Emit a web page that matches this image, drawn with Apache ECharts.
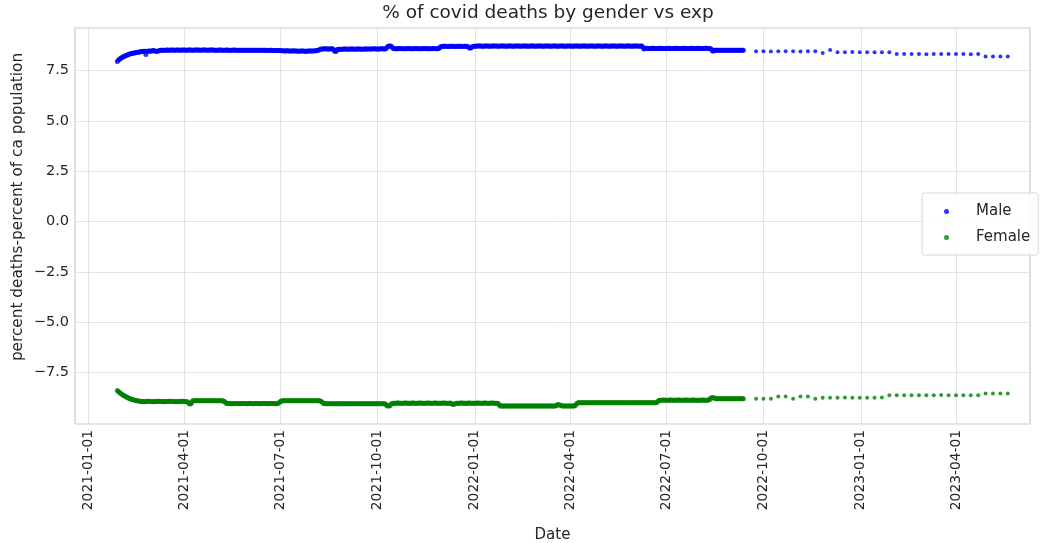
<!DOCTYPE html>
<html>
<head>
<meta charset="utf-8">
<script src="https://cdn.jsdelivr.net/npm/echarts@6/dist/echarts.min.js"></script>
<style>
  html, body { margin: 0; padding: 0; background: #ffffff; }
  #chart { width: 1045px; height: 543px; }
</style>
</head>
<body>
<div id="chart"></div>
<script>
// Daily series (one value per day starting at dailyStart), then weekly reports.
const dailyStart = '2021-01-28';
const weeklyStart = '2022-09-24';

const maleDaily = [
  7.96, 8.02, 8.07, 8.11, // Jan 2021
  8.14, 8.17, 8.20, 8.22, 8.25, 8.27, 8.29, 8.31, 8.33, 8.35, 8.36, 8.37, 8.38, 8.39, 8.40, 8.41, 8.42, 8.43, 8.44, 8.45, 8.45, 8.46, 8.46, 8.30, 8.46, 8.47, 8.48, 8.48, // Feb
  8.47, 8.49, 8.50, 8.49, 8.47, 8.46, 8.47, 8.48, 8.50, 8.51, 8.52, 8.52, 8.51, 8.52, 8.52, 8.53, 8.53, 8.52, 8.52, 8.53, 8.53, 8.53, 8.52, 8.52, 8.53, 8.53, 8.53, 8.52, 8.52, 8.53, 8.53, // Mar
  8.53, 8.53, 8.52, 8.52, 8.53, 8.53, 8.53, 8.53, 8.52, 8.52, 8.53, 8.53, 8.53, 8.53, 8.53, 8.52, 8.52, 8.53, 8.53, 8.53, 8.53, 8.53, 8.52, 8.52, 8.53, 8.53, 8.53, 8.53, 8.53, 8.52, // Apr
  8.52, 8.52, 8.52, 8.53, 8.53, 8.53, 8.52, 8.52, 8.52, 8.52, 8.53, 8.53, 8.52, 8.52, 8.52, 8.52, 8.52, 8.53, 8.53, 8.52, 8.52, 8.52, 8.52, 8.52, 8.52, 8.51, 8.51, 8.52, 8.52, 8.52, 8.52, // May
  8.52, 8.52, 8.51, 8.51, 8.52, 8.52, 8.52, 8.52, 8.51, 8.51, 8.51, 8.52, 8.52, 8.51, 8.51, 8.51, 8.51, 8.51, 8.50, 8.50, 8.51, 8.51, 8.51, 8.50, 8.50, 8.50, 8.50, 8.50, 8.50, 8.50, // Jun
  8.50, 8.49, 8.49, 8.49, 8.48, 8.48, 8.49, 8.49, 8.48, 8.48, 8.48, 8.48, 8.48, 8.49, 8.48, 8.48, 8.48, 8.47, 8.47, 8.48, 8.48, 8.48, 8.48, 8.47, 8.47, 8.47, 8.48, 8.48, 8.48, 8.48, 8.48, // Jul
  8.48, 8.48, 8.49, 8.49, 8.50, 8.51, 8.54, 8.57, 8.58, 8.58, 8.58, 8.59, 8.59, 8.58, 8.58, 8.58, 8.58, 8.59, 8.59, 8.58, 8.50, 8.45, 8.47, 8.55, 8.57, 8.57, 8.57, 8.57, 8.57, 8.58, 8.58, // Aug
  8.58, 8.58, 8.57, 8.57, 8.58, 8.58, 8.58, 8.58, 8.57, 8.57, 8.58, 8.58, 8.58, 8.58, 8.58, 8.57, 8.57, 8.58, 8.58, 8.58, 8.58, 8.58, 8.58, 8.58, 8.58, 8.58, 8.59, 8.59, 8.58, 8.58, // Sep
  8.58, 8.58, 8.58, 8.59, 8.59, 8.59, 8.58, 8.58, 8.59, 8.65, 8.71, 8.72, 8.72, 8.71, 8.65, 8.60, 8.59, 8.59, 8.59, 8.59, 8.59, 8.60, 8.60, 8.59, 8.59, 8.59, 8.59, 8.59, 8.59, 8.60, 8.60, // Oct
  8.59, 8.59, 8.59, 8.59, 8.59, 8.60, 8.60, 8.59, 8.59, 8.59, 8.59, 8.59, 8.59, 8.60, 8.60, 8.59, 8.59, 8.59, 8.59, 8.59, 8.59, 8.59, 8.60, 8.60, 8.59, 8.59, 8.59, 8.60, 8.65, 8.70, // Nov
  8.70, 8.71, 8.71, 8.71, 8.71, 8.70, 8.70, 8.71, 8.71, 8.71, 8.71, 8.71, 8.70, 8.70, 8.71, 8.71, 8.71, 8.71, 8.71, 8.70, 8.70, 8.71, 8.71, 8.71, 8.70, 8.68, 8.63, 8.62, 8.66, 8.70, 8.71, // Dec
  8.71, 8.71, 8.72, 8.72, 8.72, 8.72, 8.72, 8.71, 8.71, 8.72, 8.72, 8.72, 8.72, 8.72, 8.71, 8.71, 8.72, 8.72, 8.72, 8.72, 8.72, 8.72, 8.71, 8.71, 8.72, 8.72, 8.72, 8.72, 8.72, 8.71, 8.71, // Jan 2022
  8.72, 8.72, 8.72, 8.72, 8.72, 8.71, 8.71, 8.72, 8.72, 8.72, 8.72, 8.72, 8.71, 8.71, 8.72, 8.72, 8.72, 8.72, 8.72, 8.71, 8.71, 8.72, 8.72, 8.72, 8.72, 8.72, 8.71, 8.71, // Feb
  8.72, 8.72, 8.72, 8.72, 8.72, 8.71, 8.71, 8.72, 8.72, 8.72, 8.72, 8.72, 8.71, 8.71, 8.72, 8.72, 8.72, 8.72, 8.72, 8.71, 8.71, 8.72, 8.72, 8.72, 8.72, 8.72, 8.71, 8.71, 8.72, 8.72, 8.72, // Mar
  8.72, 8.72, 8.71, 8.71, 8.72, 8.72, 8.72, 8.72, 8.72, 8.71, 8.71, 8.72, 8.72, 8.72, 8.72, 8.72, 8.71, 8.71, 8.72, 8.72, 8.72, 8.72, 8.72, 8.71, 8.71, 8.72, 8.72, 8.72, 8.72, 8.72, // Apr
  8.71, 8.71, 8.72, 8.72, 8.72, 8.72, 8.72, 8.71, 8.71, 8.72, 8.72, 8.72, 8.72, 8.72, 8.71, 8.71, 8.72, 8.72, 8.72, 8.72, 8.72, 8.71, 8.71, 8.72, 8.72, 8.72, 8.72, 8.72, 8.71, 8.71, 8.72, // May
  8.72, 8.72, 8.72, 8.72, 8.71, 8.71, 8.72, 8.72, 8.67, 8.58, 8.60, 8.61, 8.61, 8.60, 8.60, 8.60, 8.60, 8.61, 8.61, 8.60, 8.60, 8.60, 8.60, 8.60, 8.61, 8.61, 8.60, 8.60, 8.60, 8.60, // Jun
  8.60, 8.60, 8.61, 8.61, 8.60, 8.60, 8.60, 8.60, 8.60, 8.61, 8.61, 8.60, 8.60, 8.60, 8.60, 8.60, 8.61, 8.61, 8.60, 8.60, 8.60, 8.60, 8.60, 8.61, 8.61, 8.60, 8.60, 8.60, 8.60, 8.60, 8.61, // Jul
  8.61, 8.60, 8.60, 8.60, 8.60, 8.60, 8.61, 8.61, 8.60, 8.60, 8.60, 8.59, 8.55, 8.47, 8.49, 8.51, 8.52, 8.52, 8.52, 8.52, 8.52, 8.51, 8.51, 8.52, 8.52, 8.52, 8.52, 8.52, 8.51, 8.51, 8.52, // Aug
  8.52, 8.52, 8.52, 8.52, 8.51, 8.51, 8.52, 8.52, 8.52, 8.52, 8.52, 8.51 // Sep 1-12
];

const femaleDaily = [
  -8.39, -8.44, -8.48, -8.52, // Jan 2021
  -8.56, -8.60, -8.63, -8.66, -8.69, -8.72, -8.74, -8.77, -8.79, -8.81, -8.83, -8.85, -8.86, -8.88, -8.89, -8.90, -8.91, -8.92, -8.92, -8.93, -8.93, -8.93, -8.94, -8.93, -8.93, -8.92, -8.92, -8.93, // Feb
  -8.93, -8.93, -8.94, -8.94, -8.93, -8.93, -8.92, -8.92, -8.93, -8.93, -8.93, -8.94, -8.94, -8.93, -8.93, -8.93, -8.93, -8.92, -8.92, -8.93, -8.93, -8.93, -8.93, -8.94, -8.94, -8.93, -8.93, -8.93, -8.93, -8.92, -8.92, // Mar
  -8.93, -8.93, -8.94, -8.94, -8.97, -9.05, -9.06, -9.02, -8.91, -8.90, -8.90, -8.90, -8.89, -8.89, -8.90, -8.90, -8.90, -8.90, -8.90, -8.89, -8.89, -8.90, -8.90, -8.90, -8.90, -8.90, -8.89, -8.89, -8.90, -8.90, // Apr
  -8.90, -8.90, -8.89, -8.89, -8.90, -8.90, -8.90, -8.91, -8.92, -8.97, -9.02, -9.03, -9.03, -9.03, -9.03, -9.04, -9.04, -9.03, -9.03, -9.03, -9.03, -9.03, -9.04, -9.04, -9.03, -9.03, -9.03, -9.03, -9.03, -9.04, -9.04, // May
  -9.03, -9.03, -9.03, -9.03, -9.04, -9.04, -9.03, -9.03, -9.03, -9.03, -9.03, -9.04, -9.04, -9.03, -9.03, -9.03, -9.03, -9.03, -9.04, -9.04, -9.03, -9.03, -9.03, -9.03, -9.03, -9.04, -9.04, -9.03, -9.02, -9.00, // Jun
  -8.95, -8.91, -8.90, -8.90, -8.90, -8.89, -8.89, -8.90, -8.90, -8.90, -8.90, -8.90, -8.89, -8.89, -8.90, -8.90, -8.90, -8.90, -8.90, -8.89, -8.89, -8.90, -8.90, -8.90, -8.90, -8.90, -8.89, -8.89, -8.90, -8.90, -8.90, // Jul
  -8.90, -8.90, -8.89, -8.89, -8.90, -8.90, -8.90, -8.91, -8.93, -8.98, -9.03, -9.04, -9.04, -9.04, -9.04, -9.05, -9.05, -9.04, -9.04, -9.04, -9.04, -9.04, -9.05, -9.05, -9.04, -9.04, -9.04, -9.04, -9.04, -9.05, -9.05, // Aug
  -9.04, -9.04, -9.04, -9.04, -9.05, -9.05, -9.04, -9.04, -9.04, -9.04, -9.04, -9.05, -9.05, -9.04, -9.04, -9.04, -9.04, -9.04, -9.05, -9.05, -9.04, -9.04, -9.04, -9.04, -9.04, -9.05, -9.05, -9.04, -9.04, -9.04, // Sep
  -9.04, -9.04, -9.05, -9.05, -9.04, -9.04, -9.04, -9.05, -9.08, -9.14, -9.16, -9.16, -9.13, -9.06, -9.03, -9.02, -9.02, -9.02, -9.02, -9.01, -9.01, -9.02, -9.02, -9.02, -9.02, -9.02, -9.01, -9.01, -9.02, -9.02, -9.02, // Oct
  -9.02, -9.02, -9.01, -9.01, -9.02, -9.02, -9.02, -9.02, -9.02, -9.01, -9.01, -9.02, -9.02, -9.02, -9.02, -9.02, -9.01, -9.01, -9.02, -9.02, -9.02, -9.02, -9.02, -9.01, -9.01, -9.02, -9.02, -9.02, -9.02, -9.02, // Nov
  -9.02, -9.01, -9.01, -9.02, -9.02, -9.02, -9.02, -9.02, -9.01, -9.03, -9.07, -9.08, -9.06, -9.03, -9.02, -9.02, -9.02, -9.02, -9.01, -9.01, -9.02, -9.02, -9.02, -9.02, -9.02, -9.01, -9.01, -9.02, -9.02, -9.02, -9.02, // Dec
  -9.02, -9.02, -9.01, -9.01, -9.02, -9.02, -9.02, -9.02, -9.02, -9.01, -9.01, -9.02, -9.02, -9.02, -9.02, -9.02, -9.01, -9.01, -9.02, -9.02, -9.02, -9.02, -9.03, -9.10, -9.15, -9.16, -9.16, -9.15, -9.15, -9.15, -9.16, // Jan 2022
  -9.16, -9.15, -9.15, -9.15, -9.15, -9.16, -9.16, -9.15, -9.15, -9.15, -9.15, -9.15, -9.16, -9.16, -9.15, -9.15, -9.15, -9.15, -9.15, -9.16, -9.16, -9.15, -9.15, -9.15, -9.15, -9.15, -9.16, -9.16, // Feb
  -9.15, -9.15, -9.15, -9.15, -9.15, -9.16, -9.16, -9.15, -9.15, -9.15, -9.15, -9.15, -9.16, -9.16, -9.15, -9.15, -9.15, -9.15, -9.14, -9.10, -9.09, -9.10, -9.12, -9.14, -9.15, -9.15, -9.16, -9.16, -9.15, -9.15, -9.15, // Mar
  -9.15, -9.15, -9.16, -9.16, -9.15, -9.13, -9.07, -9.01, -9.00, -9.00, -9.00, -9.00, -8.99, -8.99, -9.00, -9.00, -9.00, -9.00, -9.00, -8.99, -8.99, -9.00, -9.00, -9.00, -9.00, -9.00, -8.99, -8.99, -9.00, -9.00, // Apr
  -9.00, -9.00, -9.00, -8.99, -8.99, -9.00, -9.00, -9.00, -9.00, -9.00, -8.99, -8.99, -9.00, -9.00, -9.00, -9.00, -9.00, -8.99, -8.99, -9.00, -9.00, -9.00, -9.00, -9.00, -8.99, -8.99, -9.00, -9.00, -9.00, -9.00, -9.00, // May
  -8.99, -8.99, -9.00, -9.00, -9.00, -9.00, -9.00, -8.99, -8.99, -9.00, -9.00, -9.00, -9.00, -9.00, -8.99, -8.99, -9.00, -9.00, -9.00, -9.00, -9.00, -8.98, -8.93, -8.88, -8.87, -8.87, -8.87, -8.86, -8.86, -8.87, // Jun
  -8.87, -8.87, -8.87, -8.87, -8.86, -8.86, -8.87, -8.87, -8.87, -8.87, -8.87, -8.86, -8.86, -8.87, -8.87, -8.87, -8.87, -8.87, -8.86, -8.86, -8.87, -8.87, -8.87, -8.87, -8.87, -8.86, -8.86, -8.87, -8.87, -8.87, -8.87, // Jul
  -8.87, -8.87, -8.87, -8.86, -8.86, -8.87, -8.87, -8.87, -8.87, -8.86, -8.83, -8.77, -8.74, -8.74, -8.75, -8.77, -8.80, -8.80, -8.80, -8.79, -8.79, -8.80, -8.80, -8.80, -8.80, -8.80, -8.79, -8.79, -8.80, -8.80, -8.80, // Aug
  -8.80, -8.80, -8.79, -8.79, -8.80, -8.80, -8.80, -8.80, -8.80, -8.79, -8.79, -8.80 // Sep 1-12
];

const maleWeekly = [
  8.46, 8.46, 8.45, 8.46, 8.46, 8.46, 8.45, 8.46, 8.46, 8.38, 8.53,
  8.42, 8.42, 8.43, 8.42, 8.42, 8.42, 8.41, 8.42,
  8.33, 8.33, 8.33, 8.33, 8.32, 8.33, 8.33, 8.33, 8.33, 8.33, 8.32, 8.33,
  8.21, 8.20, 8.21, 8.21
];

const femaleWeekly = [
  -8.80, -8.80, -8.80, -8.69, -8.69, -8.80, -8.69, -8.69, -8.80,
  -8.74, -8.74, -8.74, -8.73, -8.74, -8.74, -8.74, -8.74, -8.73,
  -8.62, -8.62, -8.62, -8.62, -8.62, -8.62, -8.62, -8.61, -8.62, -8.62, -8.62, -8.62, -8.62,
  -8.53, -8.53, -8.53, -8.53
];

const seriesNames = ['Male', 'Female'];
const seriesColors = ['#0000ff', '#008000'];
const xTickDates = ['2021-01-01', '2021-04-01', '2021-07-01', '2021-10-01', '2022-01-01',
                    '2022-04-01', '2022-07-01', '2022-10-01', '2023-01-01', '2023-04-01'];
const yTicks = [-7.5, -5.0, -2.5, 0.0, 2.5, 5.0, 7.5];
const xRange = ['2020-12-19', '2023-06-10'];
const yRange = [-10.05, 9.62];

const DAY = 86400000;
const toMs = s => Date.parse(s + 'T00:00:00Z');
const toPoints = (start, stepDays, values) =>
  values.map((v, i) => [toMs(start) + i * stepDays * DAY, v]);

const FONT = 'DejaVu Sans';
const TEXT = '#262626';
const GRID_LINE = '#e2e2e2';

// Daily and weekly parts share a legend entry; daily dots are a touch larger.
function scatter(nameIdx, points, size) {
  return {
    name: seriesNames[nameIdx], type: 'scatter', symbol: 'circle', symbolSize: size,
    itemStyle: { color: seriesColors[nameIdx] },
    data: points
  };
}

const chart = echarts.init(document.getElementById('chart'), null, { renderer: 'canvas' });

chart.setOption({
  animation: false,
  backgroundColor: '#ffffff',
  textStyle: { fontFamily: FONT },
  title: {
    text: '% of covid deaths by gender vs exp',
    left: 548, top: 4, textAlign: 'center', padding: 0,
    textStyle: { fontFamily: FONT, fontSize: 18.5, fontWeight: 'normal', color: TEXT }
  },
  grid: {
    left: 75, right: 15, top: 28, bottom: 119,
    outerBoundsMode: 'none',
    show: true, borderColor: '#cbcbcb', borderWidth: 1.2, backgroundColor: '#ffffff'
  },
  legend: {
    data: seriesNames,
    orient: 'vertical',
    left: 922, top: 193,
    icon: 'circle', itemWidth: 5, itemHeight: 5, itemGap: 11,
    padding: [11, 8, 10, 22],
    backgroundColor: 'rgba(255,255,255,0.85)',
    borderColor: '#d6d6d6', borderWidth: 1, borderRadius: 3,
    textStyle: { fontFamily: FONT, fontSize: 15, color: TEXT, padding: [0, 0, 0, 22] }
  },
  graphic: [{
    type: 'text', x: 18, y: 207, rotation: Math.PI / 2,
    style: {
      text: 'percent deaths-percent of ca population',
      font: '15.3px "DejaVu Sans"', fill: TEXT,
      textAlign: 'center', textVerticalAlign: 'middle'
    }
  }],
  xAxis: {
    // dates are plotted as epoch milliseconds on a linear axis
    type: 'value',
    min: toMs(xRange[0]), max: toMs(xRange[1]),
    name: 'Date', nameLocation: 'middle', nameGap: 104,
    nameTextStyle: { fontFamily: FONT, fontSize: 15, color: TEXT },
    axisLine: { show: false },
    axisTick: { show: false, customValues: xTickDates.map(toMs) },
    axisLabel: {
      customValues: xTickDates.map(toMs),
      rotate: 90, margin: 6, fontFamily: FONT, fontSize: 13.8, color: TEXT,
      formatter: v => new Date(v).toISOString().slice(0, 10)
    },
    splitLine: { show: true, lineStyle: { color: GRID_LINE, width: 1 } }
  },
  yAxis: {
    type: 'value',
    min: yRange[0], max: yRange[1],
    axisLine: { show: false },
    axisTick: { show: false, customValues: yTicks },
    axisLabel: {
      customValues: yTicks,
      margin: 6, fontFamily: FONT, fontSize: 14.5, color: TEXT,
      formatter: v => (v < 0 ? '\u2212' : '') + Math.abs(v).toFixed(1)
    },
    splitLine: { show: true, lineStyle: { color: GRID_LINE, width: 1 } }
  },
  series: [
    scatter(0, toPoints(dailyStart, 1, maleDaily), 5),
    scatter(0, toPoints(weeklyStart, 7, maleWeekly), 4),
    scatter(1, toPoints(dailyStart, 1, femaleDaily), 5),
    scatter(1, toPoints(weeklyStart, 7, femaleWeekly), 4)
  ]
});
</script>
</body>
</html>
